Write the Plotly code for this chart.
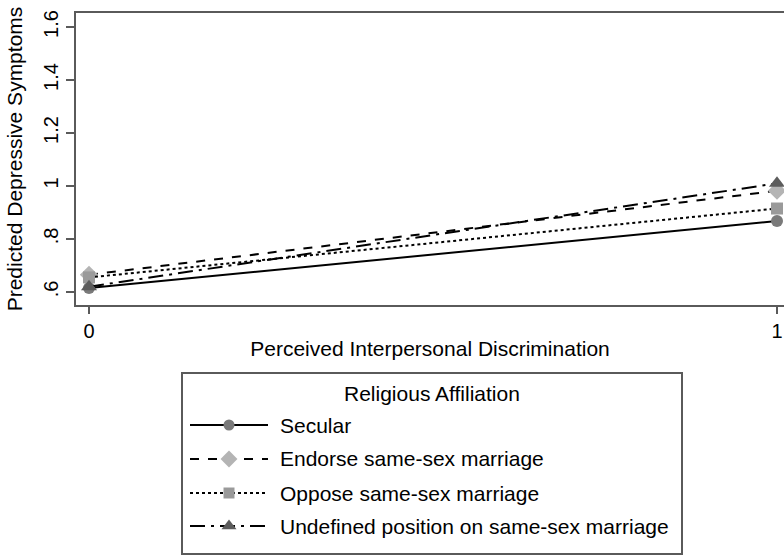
import plotly.graph_objects as go

# Predicted depressive symptoms by perceived discrimination and religious affiliation
x_levels = [0, 1]
groups = ["Secular", "Endorse same-sex marriage", "Oppose same-sex marriage",
          "Undefined position on same-sex marriage"]
secular = [0.615, 0.868]
endorse = [0.665, 0.982]
oppose = [0.655, 0.915]
undefined = [0.620, 1.010]
y_ticks = [0.6, 0.8, 1.0, 1.2, 1.4, 1.6]
y_tick_text = [".6", ".8", "1", "1.2", "1.4", "1.6"]

series = [secular, endorse, oppose, undefined]
dashes = ["solid", "dash", "dot", "longdashdot"]
symbols = ["circle", "diamond", "square", "triangle-up"]
marker_colors = ["#7a7a7a", "#b4b4b4", "#9a9a9a", "#5c5c5c"]
marker_sizes = [12, 14, 12, 14]
legend_marker_sizes = [11, 13, 11, 13]

W, H = 784, 558
FONT = "Liberation Sans, Arial, sans-serif"
FS = 21
AXIS_GRAY = "#5a5a5a"


def px_x(p):
    return p / W


def px_y(p):
    return (H - p) / H


fig = go.Figure()

for vals, name, dash, sym, col, size in zip(series, groups, dashes, symbols,
                                             marker_colors, marker_sizes):
    fig.add_trace(go.Scatter(
        x=x_levels, y=vals, mode="lines+markers", name=name, showlegend=False,
        line=dict(color="black", width=2, dash=dash),
        marker=dict(symbol=sym, size=size, color=col, line=dict(width=0)),
        xaxis="x", yaxis="y",
    ))

# Legend keys: a wide line sample with the marker in its centre
legend_rows = [425, 459, 493, 526]
key_left, key_right = 190, 268
for row, name, dash, sym, col, size in zip(legend_rows, groups, dashes, symbols,
                                           marker_colors, legend_marker_sizes):
    fig.add_trace(go.Scatter(
        x=[0, 0.5, 1], y=[row, row, row], mode="lines",
        line=dict(color="black", width=2, dash=dash), showlegend=False,
        xaxis="x2", yaxis="y2", hoverinfo="skip",
    ))
    fig.add_trace(go.Scatter(
        x=[0.5], y=[row], mode="markers",
        marker=dict(symbol=sym, size=size, color=col, line=dict(width=0)),
        showlegend=False, xaxis="x2", yaxis="y2", hoverinfo="skip",
    ))
    fig.add_annotation(
        x=px_x(278), y=px_y(row), xref="paper", yref="paper",
        text=name, showarrow=False, xanchor="left", yanchor="middle",
        font=dict(family=FONT, size=FS, color="black"),
    )

fig.add_annotation(
    x=px_x(432), y=px_y(393), xref="paper", yref="paper",
    text="Religious Affiliation", showarrow=False, xanchor="center",
    yanchor="middle", font=dict(family=FONT, size=FS, color="black"),
)

# Legend frame
fig.add_shape(type="rect", xref="paper", yref="paper",
              x0=px_x(182), x1=px_x(682), y0=px_y(554), y1=px_y(373),
              line=dict(color=AXIS_GRAY, width=2), fillcolor="rgba(0,0,0,0)")

plot_left, plot_right, plot_top, plot_bottom = 76, 784, 13, 305
x0_px, x1_px = 89, 777
ux = (x1_px - x0_px)
xr = [(plot_left - x0_px) / ux, 1 + (plot_right - x1_px) / ux]
y06_px, y16_px = 292, 27
uy = (y06_px - y16_px) / 1.0
yr = [0.6 - (plot_bottom - y06_px) / uy, 1.6 + (y16_px - plot_top) / uy]

fig.update_layout(
    width=W, height=H,
    margin=dict(l=0, r=0, t=0, b=0),
    paper_bgcolor="white", plot_bgcolor="white",
    font=dict(family=FONT, size=FS, color="black"),
    showlegend=False,
    xaxis=dict(
        domain=[px_x(plot_left), px_x(plot_right)], range=xr,
        tickmode="array", tickvals=[0, 1], ticktext=["0", "1"],
        ticks="outside", ticklen=7, tickwidth=1.5, tickcolor=AXIS_GRAY,
        showline=True, linecolor=AXIS_GRAY, linewidth=2, mirror=True,
        showgrid=False, zeroline=False, automargin=False,
        tickfont=dict(size=20),
        title=dict(text="Perceived Interpersonal Discrimination",
                   font=dict(size=FS), standoff=0),
    ),
    yaxis=dict(
        domain=[px_y(plot_bottom), px_y(plot_top)], range=yr,
        tickmode="array", tickvals=y_ticks, ticktext=y_tick_text,
        tickangle=-90,
        ticks="outside", ticklen=8, tickwidth=1.5, tickcolor=AXIS_GRAY,
        showline=True, linecolor=AXIS_GRAY, linewidth=2, mirror=False,
        showgrid=False, zeroline=False, automargin=False,
        tickfont=dict(size=20),
        title=dict(text="Predicted Depressive Symptoms",
                   font=dict(size=FS), standoff=12),
    ),
    xaxis2=dict(domain=[px_x(key_left), px_x(key_right)], range=[0, 1],
                visible=False, fixedrange=True, anchor="y2"),
    yaxis2=dict(domain=[px_y(554), px_y(373)], range=[554, 373],
                visible=False, fixedrange=True, anchor="x2"),
)

fig.write_html("out.html")
